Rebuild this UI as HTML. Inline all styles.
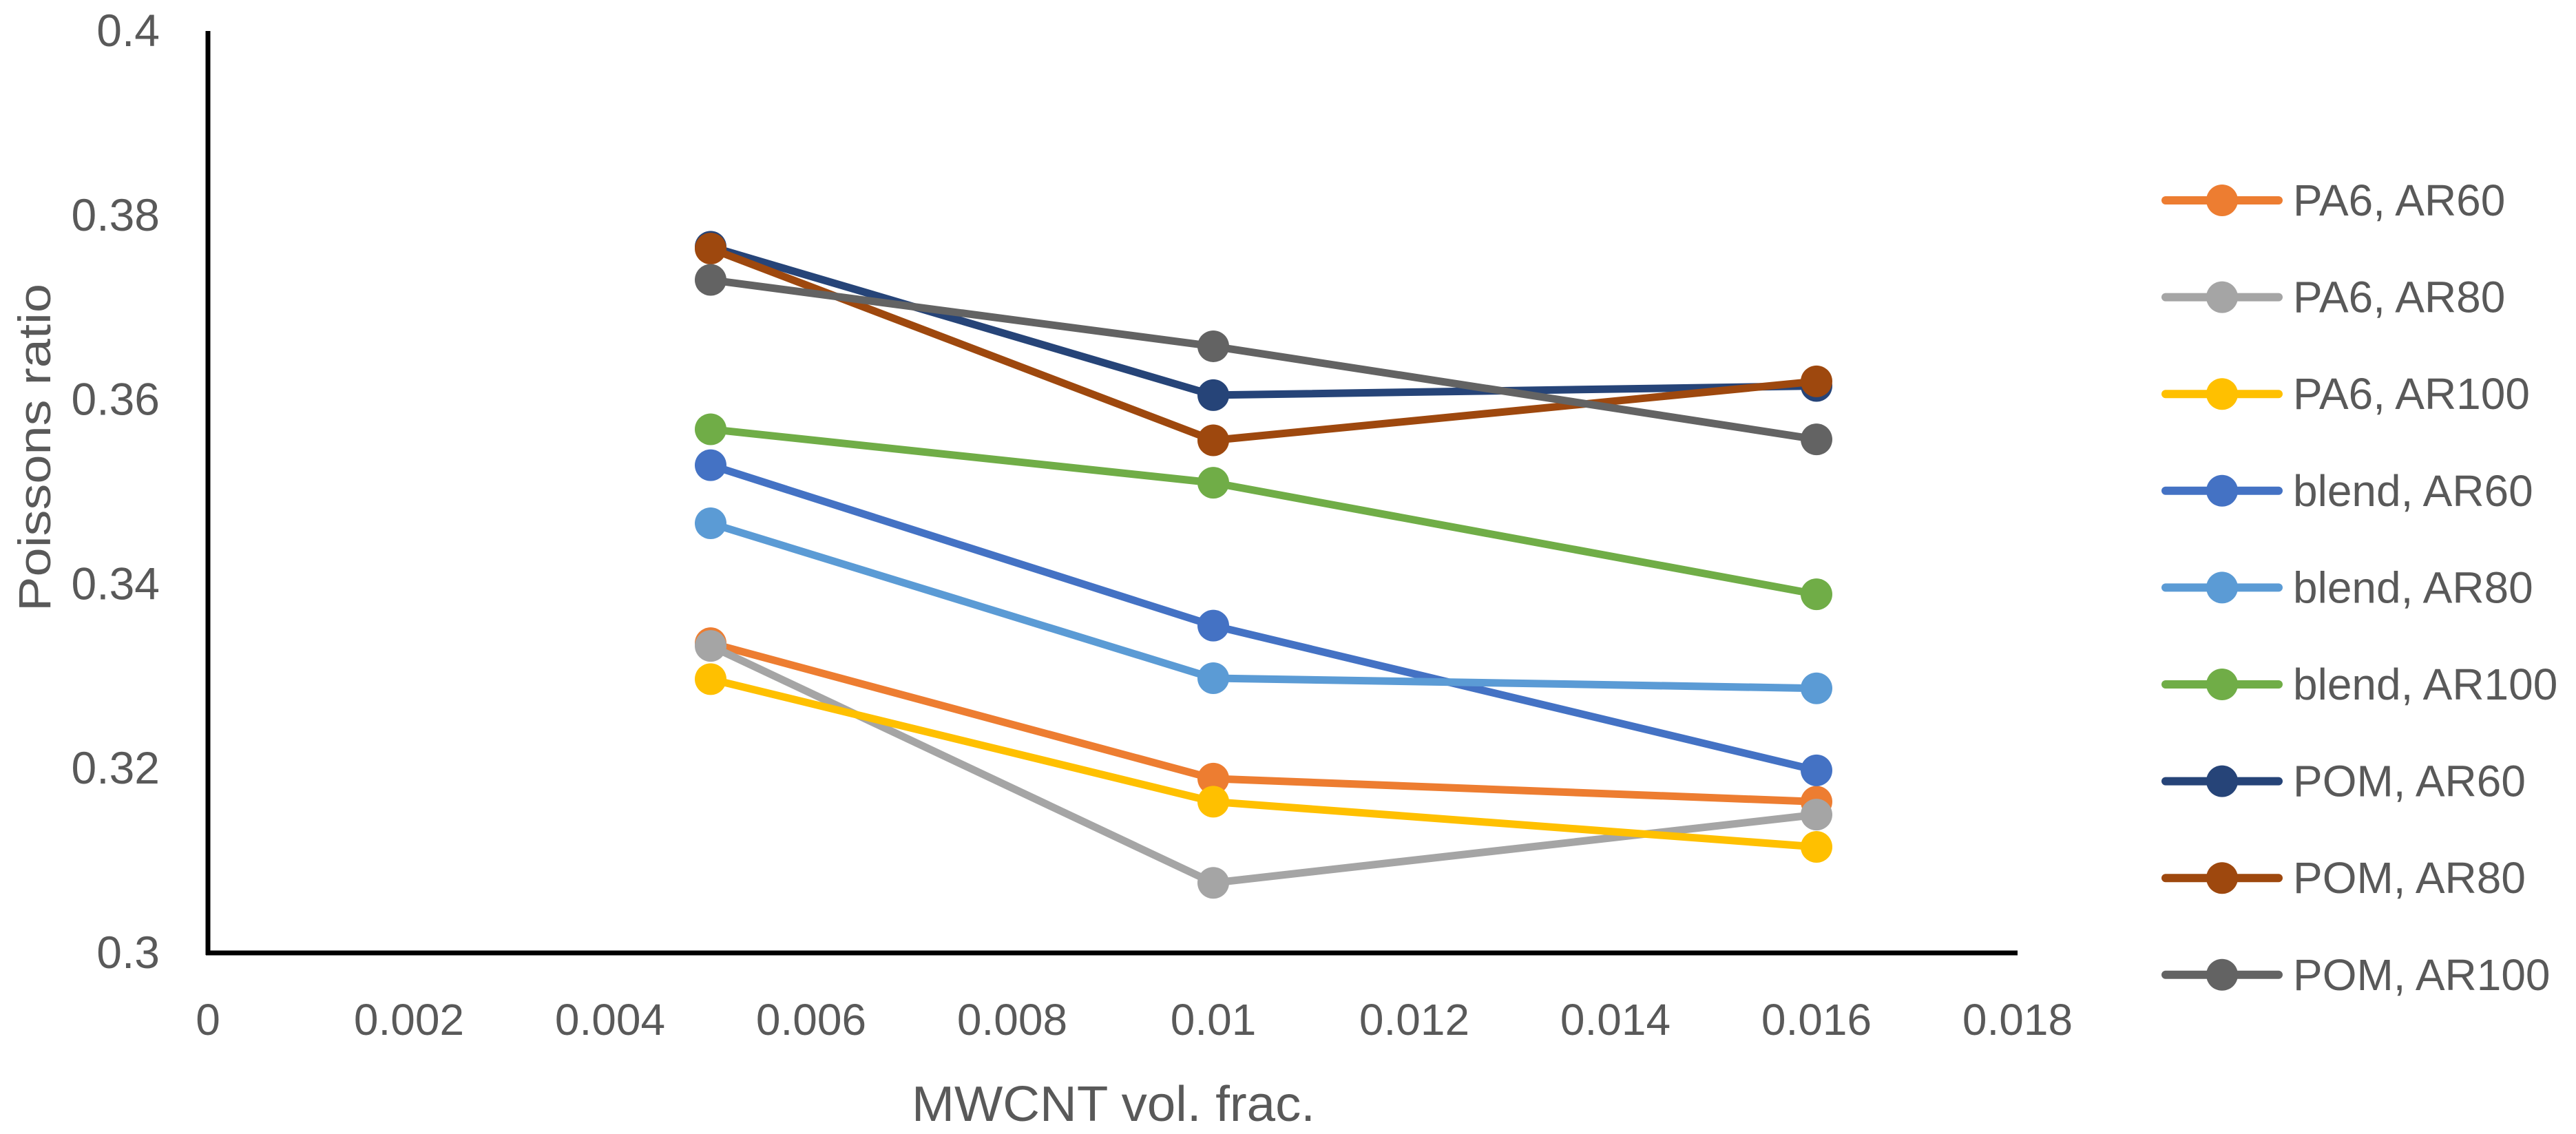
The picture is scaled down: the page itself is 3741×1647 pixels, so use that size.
<!DOCTYPE html>
<html><head><meta charset="utf-8"><style>
html,body{margin:0;padding:0;background:#fff;}
svg{display:block;font-family:"Liberation Sans",sans-serif;}
</style></head><body>
<svg id="chart" width="3741" height="1647" viewBox="0 0 3741 1647" xmlns="http://www.w3.org/2000/svg">
<rect width="3741" height="1647" fill="#fff"/>
<g id="grid"></g>
<g id="series"></g>
<g id="legend"></g>
<text x="0" y="0" transform="translate(73,888) rotate(-90)" font-size="66" fill="#595959" textLength="476" lengthAdjust="spacingAndGlyphs">Poissons ratio</text>
<text x="1324" y="1628" font-size="72" fill="#595959" textLength="586" lengthAdjust="spacingAndGlyphs">MWCNT vol. frac.</text>
</svg>
<script>
const xTicks = [0,0.002,0.004,0.006,0.008,0.01,0.012,0.014,0.016,0.018];
const xTickLabels = ["0","0.002","0.004","0.006","0.008","0.01","0.012","0.014","0.016","0.018"];
const yTicks = [0.3,0.32,0.34,0.36,0.38,0.4];
const yTickLabels = ["0.3","0.32","0.34","0.36","0.38","0.4"];
const xValues = [0.005,0.01,0.016];
const seriesNames = ["PA6, AR60","PA6, AR80","PA6, AR100","blend, AR60","blend, AR80","blend, AR100","POM, AR60","POM, AR80","POM, AR100"];
const seriesColors = ["#ED7D31","#A5A5A5","#FFC000","#4472C4","#5B9BD5","#70AD47","#264478","#9E480E","#636363"];
const pa6AR60 = [0.3336,0.3189,0.3164];
const pa6AR80 = [0.3333,0.3076,0.3150];
const pa6AR100 = [0.3297,0.3164,0.3115];
const blendAR60 = [0.3529,0.3355,0.3198];
const blendAR80 = [0.3466,0.3298,0.3287];
const blendAR100 = [0.3568,0.3510,0.3389];
const pomAR60 = [0.3766,0.3605,0.3615];
const pomAR80 = [0.3764,0.3556,0.3620];
const pomAR100 = [0.3730,0.3658,0.3557];
const seriesValues = [pa6AR60,pa6AR80,pa6AR100,blendAR60,blendAR80,blendAR100,pomAR60,pomAR80,pomAR100];

const NS="http://www.w3.org/2000/svg";
const X0=302,X1=2930,Y0=1384,Y1=45;
const xs=v=>X0+(v-0)/(0.018)*(X1-X0);
const ys=v=>Y0-(v-0.3)/(0.1)*(Y0-Y1);
function mk(tag,attrs,parent){const e=document.createElementNS(NS,tag);for(const k in attrs)e.setAttribute(k,attrs[k]);parent.appendChild(e);return e;}
const grid=document.getElementById('grid'),ser=document.getElementById('series'),leg=document.getElementById('legend');
let ax=mk('line',{x1:X0,y1:Y1,x2:X0,y2:Y0+3,stroke:'#000','stroke-width':7},grid);


let bx=mk('line',{x1:X0-3,y1:Y0,x2:X1,y2:Y0,stroke:'#000','stroke-width':7},grid);


xTicks.forEach((t,i)=>{const tx=mk('text',{x:xs(t),y:1503,'text-anchor':'middle','font-size':64,fill:'#595959'},grid);tx.textContent=xTickLabels[i];

});
yTicks.forEach((t,i)=>{const tx=mk('text',{x:232,y:ys(t)+22,'text-anchor':'end','font-size':66,fill:'#595959'},grid);tx.textContent=yTickLabels[i];

});
seriesValues.forEach((vals,si)=>{
  const c=seriesColors[si];
  const g=mk('g',{},ser);
  
  
  const pts=vals.map((v,i)=>xs(xValues[i])+','+ys(v)).join(' ');
  const pl=mk('polyline',{points:pts,fill:'none',stroke:c,'stroke-width':11,'stroke-linejoin':'round'},g);
  
  
  vals.forEach((v,i)=>{const m=mk('circle',{cx:xs(xValues[i]),cy:ys(v),r:23,fill:c},g);
  
  });
  const ly=291+si*140.6;
  const lg=mk('g',{},leg);
  
  
  mk('line',{x1:3145,y1:ly,x2:3309,y2:ly,stroke:c,'stroke-width':12,'stroke-linecap':'round'},lg);
  mk('circle',{cx:3227,cy:ly,r:23,fill:c},lg);
  const lt=mk('text',{x:3330,y:ly+22,'font-size':64,fill:'#595959'},lg);lt.textContent=seriesNames[si];
});
</script>
</body></html>
